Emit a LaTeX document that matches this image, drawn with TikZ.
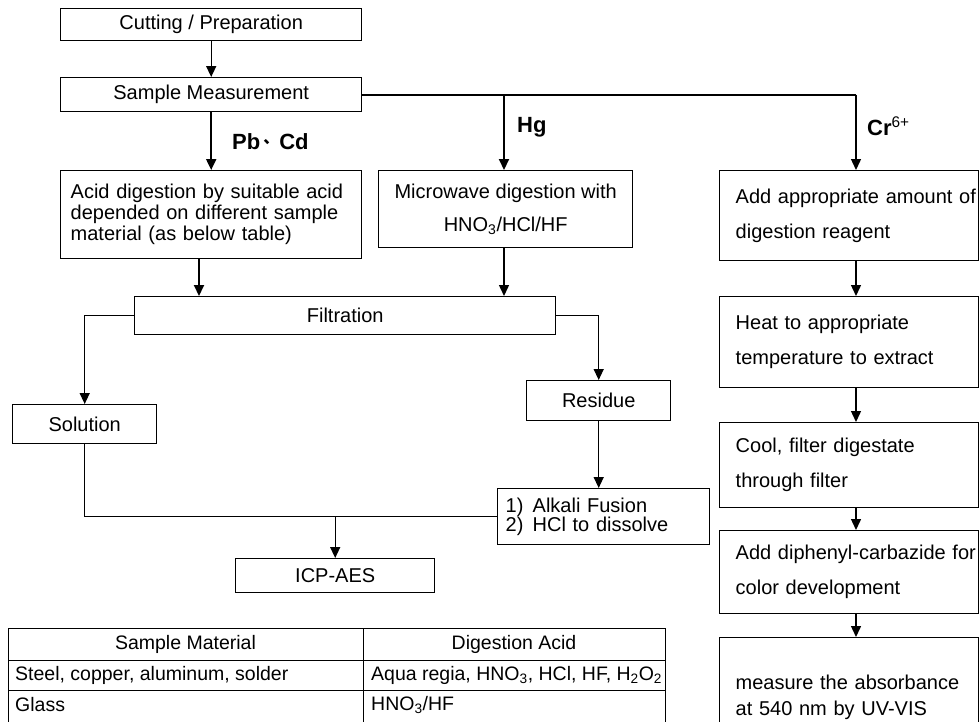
\documentclass[tikz,border=0pt]{standalone}
\usepackage{fontspec}
\setmainfont{Liberation Sans}
\newfontfamily\cjk{Noto Sans CJK SC}
\usetikzlibrary{arrows.meta,calc}
\begin{document}
\begin{tikzpicture}[x=1pt,y=-1pt,
  box/.style={draw,line width=1.4pt,rectangle,inner sep=0pt,anchor=north west,
    font=\fontsize{20}{21}\selectfont},
  lbox/.style={box,align=left,inner xsep=10pt},
  crbox/.style={box,minimum width=259pt,text width=227pt,align=left,inner xsep=16pt,
    font=\fontsize{20}{35}\selectfont},
  arr/.style={line width=1.4pt,-{Triangle[width=10pt,length=11pt]}},
  tarr/.style={line width=2pt,-{Triangle[width=10pt,length=11pt]}},
  ln/.style={line width=1.4pt},
  tln/.style={line width=2pt},
  lbl/.style={font=\fontsize{22}{24}\selectfont\bfseries,anchor=west,inner sep=0pt},
  tcell/.style={font=\fontsize{19.5}{20}\selectfont,inner sep=0pt},
  tline/.style={line width=1pt}
]
\useasboundingbox (0,0) rectangle (979,721);

% main chain
\node[box,minimum width=301pt,minimum height=32pt] (cut) at (60,8) {Cutting / Preparation};
\node[box,minimum width=301pt,minimum height=34pt] (samp) at (60,77) {Sample Measurement};
\node[lbox,minimum width=301pt,minimum height=88pt,text width=281pt] (acid) at (60,170)
  {\mbox{Acid digestion by suitable acid}\\\mbox{depended on different sample}\\\mbox{material (as below table)}};
\node[box,minimum width=254pt,minimum height=77pt,align=center,font=\fontsize{20}{33}\selectfont] (micro) at (378,170)
  {Microwave digestion with\\HNO\textsubscript{3}/HCl/HF};
\node[box,minimum width=421pt,minimum height=38pt] (filt) at (134,296) {Filtration};
\node[box,minimum width=144pt,minimum height=39pt] (sol) at (12,404) {Solution};
\node[box,minimum width=144pt,minimum height=40pt] (res) at (526,380) {Residue};
\node[box,minimum width=212pt,minimum height=56pt,align=left,inner xsep=8pt,text width=196pt,
  font=\fontsize{20}{18.5}\selectfont] (alk) at (497,488)
  {\makebox[27pt][l]{1)}Alkali Fusion\\\makebox[27pt][l]{2)}HCl to dissolve};
\node[box,minimum width=199pt,minimum height=34pt] (icp) at (235,558) {ICP-AES};

% Cr(VI) column
\node[crbox,minimum height=90pt] (cr1) at (719,170) {\mbox{Add appropriate amount of}\\\mbox{digestion reagent}};
\node[crbox,minimum height=91pt] (cr2) at (719,296) {\mbox{Heat to appropriate}\\\mbox{temperature to extract}};
\node[crbox,minimum height=85pt] (cr3) at (719,422) {\mbox{Cool, filter digestate}\\\mbox{through filter}};
\node[crbox,minimum height=83pt] (cr4) at (719,530) {\mbox{Add diphenyl-carbazide for}\\\mbox{color development}};
\node[crbox,minimum height=120pt,font=\fontsize{20}{26}\selectfont] (cr5) at (719,637)
  {\makebox[240pt][s]{measure the absorbance}\\\mbox{at 540 nm by UV-VIS}};

% labels
\node[lbl] (pbcd) at (232,142) {Pb\hspace{3pt}\raisebox{6pt}{\cjk\fontsize{16}{16}\selectfont 、}Cd};
\node[lbl] (hg) at (517,127) {Hg};
\node[lbl] (crl) at (867,126) {Cr\textsuperscript{\mdseries 6+}};

% connectors
\coordinate (crx) at (856,0);
\coordinate (hgx) at (504,0);
\coordinate (acx) at (199,0);
\draw[arr] (cut.south) -- (samp.north);
\draw[tarr] (samp.south) -- (acid.north);
\draw[tln] (samp.east) -- (crx |- samp.east);
\draw[arr] (crx |- samp.east) -- (crx |- cr1.north);
\draw[tarr] (hgx |- samp.east) -- (hgx |- micro.north);
\draw[tarr] (acx |- acid.south) -- (acx |- filt.north);
\draw[arr] (hgx |- micro.south) -- (hgx |- filt.north);
\draw[arr] (filt.west) -| (sol.north);
\draw[arr] (filt.east) -| (res.north);
\draw[arr] (res.south) -- (res.south |- alk.north);
\draw[ln] (sol.south) |- (alk.west);
\draw[arr] (icp.north |- alk.west) -- (icp.north);
\draw[arr] (crx |- cr1.south) -- (crx |- cr2.north);
\draw[arr] (crx |- cr2.south) -- (crx |- cr3.north);
\draw[arr] (crx |- cr3.south) -- (crx |- cr4.north);
\draw[arr] (crx |- cr4.south) -- (crx |- cr5.north);

% table
\draw[tline] (8,730) -- (8,628) -- (665,628) -- (665,730);
\draw[tline] (363,628) -- (363,730);
\draw[tline] (8,660) -- (665,660);
\draw[tline] (8,690) -- (665,690);
\node[tcell] (th1) at (185.5,644) {Sample Material};
\node[tcell] (th2) at (514,644) {Digestion Acid};
\node[tcell,anchor=west] (r1a) at (15,675) {Steel, copper, aluminum, solder};
\node[tcell,anchor=west] (r1b) at (371,675) {Aqua regia, HNO\textsubscript{3}, HCl, HF, H\textsubscript{2}O\textsubscript{2}};
\node[tcell,anchor=west] (r2a) at (15,705) {Glass};
\node[tcell,anchor=west] (r2b) at (371,705) {HNO\textsubscript{3}/HF};
\end{tikzpicture}
\end{document}
